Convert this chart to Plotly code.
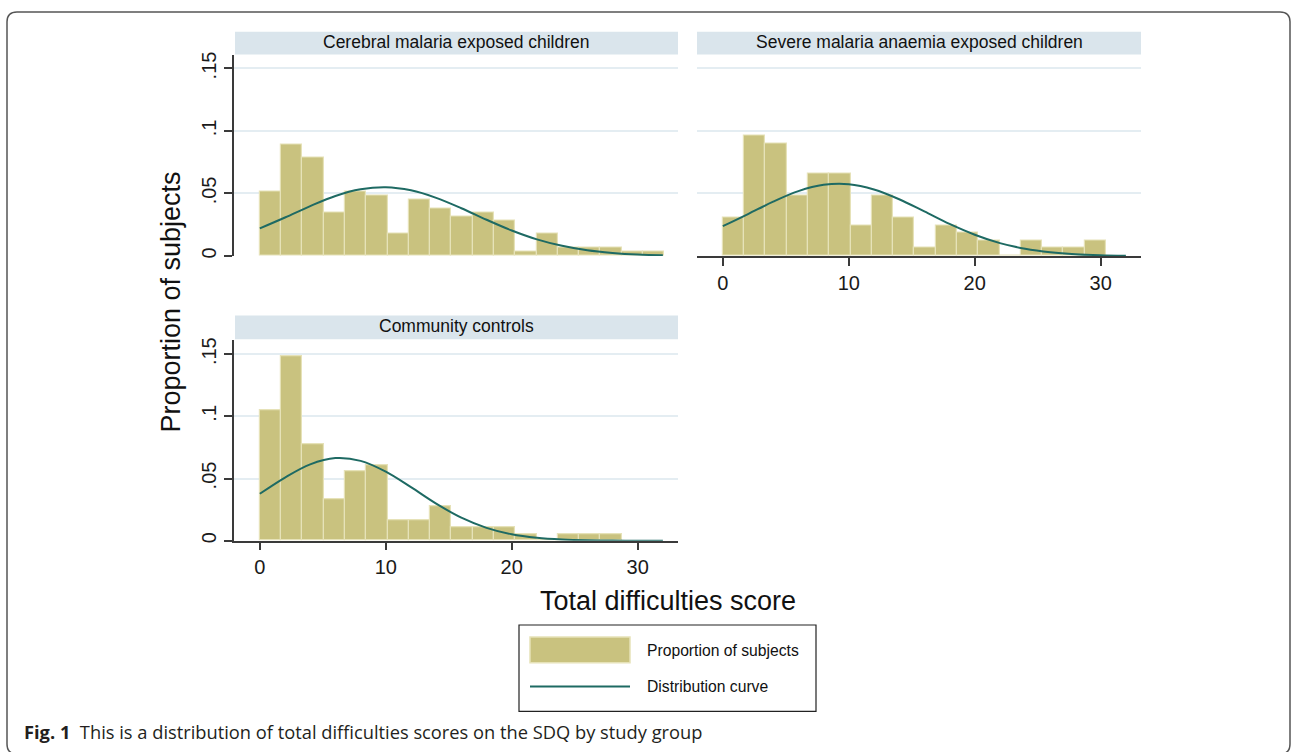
import plotly.graph_objects as go

W, H = 1292, 752

# ---------------- data ----------------
panel_titles = ["Cerebral malaria exposed children",
                "Severe malaria anaemia exposed children",
                "Community controls"]
bin_start = 0.0
bin_width = 1.69

cm_props = [0.0518, 0.0895, 0.0789, 0.0347, 0.0518, 0.0482, 0.0176, 0.0453,
            0.0382, 0.0313, 0.0347, 0.0282, 0.0039, 0.0176, 0.0071, 0.0071,
            0.0071, 0.0039, 0.0039]
sma_props = [0.0308, 0.0961, 0.0900, 0.0482, 0.0658, 0.0658, 0.0245, 0.0482,
             0.0308, 0.0066, 0.0245, 0.0184, 0.0126, 0.0, 0.0126, 0.0066,
             0.0066, 0.0126]
cc_props = [0.1050, 0.1487, 0.0775, 0.0333, 0.0556, 0.0608, 0.0164, 0.0164,
            0.0278, 0.0108, 0.0108, 0.0108, 0.0053, 0.0, 0.0053, 0.0053,
            0.0053]

curve_x = [0, 2, 4, 6, 8, 10, 12, 14, 16, 18, 20, 22, 24, 26, 28, 30, 32]
cm_curve = [0.0221, 0.0308, 0.0399, 0.0480, 0.0533, 0.0550, 0.0525, 0.0465,
            0.0382, 0.0290, 0.0204, 0.0133, 0.0081, 0.0045, 0.0024, 0.0011, 0.0005]
sma_curve = [0.0238, 0.0335, 0.0435, 0.0519, 0.0569, 0.0574, 0.0532, 0.0454,
             0.0356, 0.0256, 0.0170, 0.0103, 0.0058, 0.0030, 0.0014, 0.0006, 0.0002]
cc_curve = [0.0377, 0.0508, 0.0614, 0.0664, 0.0642, 0.0555, 0.0430, 0.0298,
            0.0185, 0.0103, 0.0051, 0.0023, 0.0009, 0.0003, 0.0001, 0.0, 0.0]

y_tickvals = [0, 0.05, 0.1, 0.15]
y_ticktext = ["0", ".05", ".1", ".15"]
x_tickvals = [0, 10, 20, 30]
x_ticktext = ["0", "10", "20", "30"]

legend_labels = ["Proportion of subjects", "Distribution curve"]
x_title = "Total difficulties score"
y_title = "Proportion of subjects"
caption_bold = "Fig. 1"
caption_text = "This is a distribution of total difficulties scores on the SDQ by study group"

# ---------------- style ----------------
BAR = "#c9c27f"
BAR_EDGE = "#e6e2b8"
CURVE = "#1e6a63"
AXIS = "#3a3a3a"
GRID = "#e4edf2"
STRIP = "#dae5ec"
FONT = "Liberation Sans, Arial, sans-serif"


def px(x):
    return x / W


def py(y):
    return 1 - y / H


panels = [
    (cm_props, cm_curve, (234, 678), (52, 255), True, False),
    (sma_props, sma_curve, (697, 1141), (52, 255), False, True),
    (cc_props, cc_curve, (234, 678), (340, 542), True, True),
]

fig = go.Figure()
layout = {}
for i, (props, curve, (x0, x1), (yt, yb), showy, showx) in enumerate(panels):
    n = i + 1
    xa = "x" if n == 1 else f"x{n}"
    ya = "y" if n == 1 else f"y{n}"
    centers = [bin_start + bin_width * (k + 0.5) for k in range(len(props))]
    fig.add_trace(go.Bar(x=centers, y=props, width=bin_width,
                         marker=dict(color=BAR, line=dict(color=BAR_EDGE, width=1.2)),
                         xaxis=xa, yaxis=ya, showlegend=False,
                         name=legend_labels[0]))
    fig.add_trace(go.Scatter(x=curve_x, y=curve, mode="lines",
                             line=dict(color=CURVE, width=2, shape="spline"),
                             xaxis=xa, yaxis=ya, showlegend=False,
                             name=legend_labels[1]))
    xkey = "xaxis" if n == 1 else f"xaxis{n}"
    ykey = "yaxis" if n == 1 else f"yaxis{n}"
    layout[xkey] = dict(
        domain=[px(x0), px(x1)], anchor=ya, range=[-2.05, 33.2],
        showgrid=False, zeroline=False,
        showline=showx, linecolor=AXIS, linewidth=1.5,
        ticks="outside" if showx else "", ticklen=8, tickwidth=1.5, tickcolor=AXIS,
        showticklabels=showx, tickvals=x_tickvals, ticktext=x_ticktext,
        tickfont=dict(family=FONT, size=20, color="#1a1a1a"),
    )
    yr = 0.15 * (yb - yt) / (yb - (yt + 14))
    layout[ykey] = dict(
        domain=[py(yb), py(yt)], anchor=xa, range=[0, yr],
        showgrid=True, gridcolor=GRID, gridwidth=1.5, zeroline=False,
        showline=showy, linecolor=AXIS, linewidth=1.5,
        ticks="outside" if showy else "", ticklen=8, tickwidth=1.5, tickcolor=AXIS,
        showticklabels=showy, tickvals=y_tickvals, ticktext=y_ticktext,
        tickangle=-90,
        tickfont=dict(family=FONT, size=20, color="#1a1a1a"),
    )

shapes = []
annotations = []

strip_boxes = [((235, 678), (29, 52)), ((697, 1141), (29, 52)), ((235, 678), (315, 339))]
for title, ((x0, x1), (y0, y1)) in zip(panel_titles, strip_boxes):
    shapes.append(dict(type="rect", xref="paper", yref="paper",
                       x0=px(x0), x1=px(x1), y0=py(y1), y1=py(y0),
                       fillcolor=STRIP, line=dict(width=0), layer="below"))
    annotations.append(dict(xref="paper", yref="paper", x=px((x0 + x1) / 2),
                            y=py((y0 + y1) / 2 - 1), text=title, showarrow=False,
                            xanchor="center", yanchor="middle",
                            font=dict(family=FONT, size=17.5, color="#111")))

annotations.append(dict(xref="paper", yref="paper", x=px(171), y=py(302),
                        text=y_title, textangle=-90, showarrow=False,
                        xanchor="center", yanchor="middle",
                        font=dict(family=FONT, size=27, color="#111")))
annotations.append(dict(xref="paper", yref="paper", x=px(668), y=py(603),
                        text=x_title, showarrow=False,
                        xanchor="center", yanchor="middle",
                        font=dict(family=FONT, size=27, color="#111")))

shapes.append(dict(type="rect", xref="paper", yref="paper",
                   x0=px(519), x1=px(816), y0=py(714), y1=py(627),
                   line=dict(color="#222", width=1.2), fillcolor="white"))
shapes.append(dict(type="rect", xref="paper", yref="paper",
                   x0=px(530), x1=px(630), y0=py(665), y1=py(639),
                   line=dict(color=BAR_EDGE, width=1.5), fillcolor=BAR))
shapes.append(dict(type="line", xref="paper", yref="paper",
                   x0=px(530), x1=px(630), y0=py(689), y1=py(689),
                   line=dict(color=CURVE, width=2.2)))
annotations.append(dict(xref="paper", yref="paper", x=px(645), y=py(653),
                        text=legend_labels[0], showarrow=False,
                        xanchor="left", yanchor="middle",
                        font=dict(family=FONT, size=15.7, color="#111")))
annotations.append(dict(xref="paper", yref="paper", x=px(645), y=py(689),
                        text=legend_labels[1], showarrow=False,
                        xanchor="left", yanchor="middle",
                        font=dict(family=FONT, size=15.7, color="#111")))

annotations.append(dict(xref="paper", yref="paper", x=px(22), y=py(734),
                        text=f"<b>{caption_bold}</b>  {caption_text}",
                        showarrow=False, xanchor="left", yanchor="middle",
                        font=dict(family="Open Sans, Noto Sans, sans-serif", size=18.3,
                                  color="#231f20")))

L, T, R, B, r = 7, 9, 1290, 757, 10
path = (f"M {px(L + r)},{py(T)} L {px(R - r)},{py(T)} "
        f"Q {px(R)},{py(T)} {px(R)},{py(T + r)} L {px(R)},{py(B - r)} "
        f"Q {px(R)},{py(B)} {px(R - r)},{py(B)} L {px(L + r)},{py(B)} "
        f"Q {px(L)},{py(B)} {px(L)},{py(B - r)} L {px(L)},{py(T + r)} "
        f"Q {px(L)},{py(T)} {px(L + r)},{py(T)} Z")
shapes.append(dict(type="path", xref="paper", yref="paper", path=path,
                   line=dict(color="#555", width=1.5)))

fig.update_layout(
    width=W, height=H, margin=dict(l=0, r=0, t=0, b=0),
    paper_bgcolor="white", plot_bgcolor="white",
    barmode="overlay", bargap=0,
    shapes=shapes, annotations=annotations,
    showlegend=False,
    **layout,
)

fig.write_html("out.html",
               config={"displayModeBar": False},
               post_script="document.body.style.margin='0';document.body.style.overflow='hidden';")
